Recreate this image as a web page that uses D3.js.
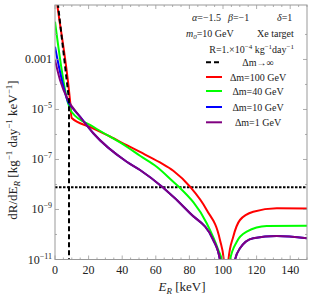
<!DOCTYPE html>
<html><head><meta charset="utf-8">
<script src="https://cdn.jsdelivr.net/npm/d3@7"></script>
<style>body{margin:0;background:#fff}svg{display:block}text{font-family:"Liberation Serif","DejaVu Serif",serif;fill:#222}</style>
</head><body>
<script>
// ---- data ----
const xMajorTicks = [0, 20, 40, 60, 80, 100, 120, 140];
const xMinorTicks = [5,10,15,25,30,35,45,50,55,65,70,75,85,90,95,105,110,115,125,130,135,145,150];
const yLabelExps = [-3, -5, -7, -9, -11];
const yMinorExps = [-2, -4, -6, -8, -10];

const energyInf = [0, 1.79, 8.33, 8.33];
const rateInf   = [1.66, 0.151, 2.40e-5, 1e-14];

const energy100 = [0, 1.37, 8.93, 9.94, 20.8, 32.7, 42.7, 50.6, 62.5, 70.4, 80.4, 90.3, 98.2, 100.5, 101.8, 103.2, 106.1, 110.1, 118.0, 132.0, 150];
const rate100   = [0.741, 0.151, 2.40e-5, 4.57e-6, 2.00e-6, 8.32e-7, 3.72e-7, 2.00e-7, 7.59e-8, 3.55e-8, 8.13e-9, 9.55e-10, 6.03e-11, 9.55e-12, 1e-13, 9.55e-12, 8.13e-11, 3.80e-10, 8.13e-10, 1.12e-9, 1.10e-9];

const energy40 = [0, 7.74, 9.94, 22.8, 42.7, 50.6, 60.5, 70.4, 74.0, 90.3, 97.2, 99.2, 101.8, 104.2, 108.2, 114.1, 126.0, 150];
const rate40   = [3.24e-2, 1.82e-5, 7.94e-6, 2.04e-6, 3.24e-7, 1.41e-7, 5.13e-8, 1.29e-8, 7.76e-9, 2.82e-10, 2.40e-11, 9.55e-12, 3e-14, 9.55e-12, 5.13e-11, 1.29e-10, 2.19e-10, 2.24e-10];

const energy10 = [0, 2.98, 7.74, 9.94, 14.9, 22.8, 42.7, 50.6, 64.1, 80.4, 94.2, 98.2, 101.8, 107.1, 110.1, 118.0, 132.0, 150];
const rate10   = [3.24e-3, 3.24e-4, 2.04e-5, 1.26e-5, 5.13e-6, 1.12e-6, 8.13e-8, 3.80e-8, 7.76e-9, 7.08e-10, 6.03e-11, 9.55e-12, 1e-14, 9.55e-12, 2.82e-11, 7.08e-11, 8.71e-11, 7.08e-11];

const energy1 = [0, 2.98, 7.74, 14.9, 22.8, 42.7, 50.6, 64.1, 80.4, 94.2, 98.2, 101.8, 107.1, 110.1, 118.0, 132.0, 150];
const rate1   = [9.55e-4, 1.51e-4, 2.40e-5, 5.13e-6, 1.12e-6, 8.13e-8, 3.80e-8, 7.76e-9, 7.08e-10, 6.03e-11, 9.55e-12, 1e-14, 9.55e-12, 2.82e-11, 7.08e-11, 8.71e-11, 7.08e-11];

const thresholdRate = 7.76e-9;

const seriesNames = ["Δm→∞", "Δm=100 GeV", "Δm=40 GeV", "Δm=10 GeV", "Δm=1 GeV"];
const seriesColors = ["#000000", "#ff0000", "#00ff00", "#0000ff", "#800080"];

// ---- layout ----
const W = 312, H = 299;
const L = 55, R = 307, T = 5, B = 259.5;
const svg = d3.select("body").append("svg").attr("width", W).attr("height", H);
const x = d3.scaleLinear().domain([0, 150]).range([L, R]);
const y = d3.scaleLog().domain([1e-11, 0.151]).range([B, T]);

svg.append("clipPath").attr("id", "c").append("rect").attr("x", L).attr("y", T).attr("width", R - L).attr("height", B - T);
const g = svg.append("g").attr("clip-path", "url(#c)");

const zip = (a, b) => a.map((e, i) => [e, b[i]]);
const lineM = d3.line().x(d => x(d[0])).y(d => y(Math.max(d[1], 1e-16))).curve(d3.curveMonotoneX);
const lineL = d3.line().x(d => x(d[0])).y(d => y(Math.max(d[1], 1e-16)));

// threshold horizontal dotted line
g.append("line").attr("x1", L).attr("x2", R).attr("y1", y(thresholdRate)).attr("y2", y(thresholdRate))
  .attr("stroke", "#000").attr("stroke-width", 2).attr("stroke-dasharray", "2.5,1.5");

const curves = [
  [zip(energy100, rate100), 1],
  [zip(energy40, rate40), 2],
  [zip(energy10, rate10), 3],
  [zip(energy1, rate1), 4]
];
curves.forEach(([data, ci]) => {
  g.append("path").attr("d", lineM(data)).attr("fill", "none").attr("stroke", seriesColors[ci]).attr("stroke-width", 2);
});
g.append("path").attr("d", lineL(zip(energyInf, rateInf))).attr("fill", "none").attr("stroke", "#000")
  .attr("stroke-width", 2).attr("stroke-dasharray", "5,3");

// frame and ticks
const axisCol = "#999";
svg.append("rect").attr("x", L).attr("y", T).attr("width", R - L).attr("height", B - T)
  .attr("fill", "none").attr("stroke", axisCol).attr("stroke-width", 1);
const tk = svg.append("g").attr("stroke", axisCol).attr("stroke-width", 0.8);
xMajorTicks.forEach(v => {
  tk.append("line").attr("x1", x(v)).attr("x2", x(v)).attr("y1", B).attr("y2", B - 4);
  tk.append("line").attr("x1", x(v)).attr("x2", x(v)).attr("y1", T).attr("y2", T + 4);
});
xMinorTicks.forEach(v => {
  tk.append("line").attr("x1", x(v)).attr("x2", x(v)).attr("y1", B).attr("y2", B - 2);
  tk.append("line").attr("x1", x(v)).attr("x2", x(v)).attr("y1", T).attr("y2", T + 2);
});
yLabelExps.forEach(e => {
  const yy = y(Math.pow(10, e));
  tk.append("line").attr("x1", L).attr("x2", L + 4).attr("y1", yy).attr("y2", yy);
  tk.append("line").attr("x1", R).attr("x2", R - 4).attr("y1", yy).attr("y2", yy);
});
yMinorExps.forEach(e => {
  const yy = y(Math.pow(10, e));
  tk.append("line").attr("x1", L).attr("x2", L + 2).attr("y1", yy).attr("y2", yy);
  tk.append("line").attr("x1", R).attr("x2", R - 2).attr("y1", yy).attr("y2", yy);
});

// tick labels
xMajorTicks.forEach(v => {
  svg.append("text").attr("x", x(v)).attr("y", 274).attr("text-anchor", "middle").attr("font-size", 12).text(v);
});
yLabelExps.forEach(e => {
  const t = svg.append("text").attr("x", 52).attr("y", y(Math.pow(10, e)) + 4).attr("text-anchor", "end").attr("font-size", 12);
  if (e === -3) t.text("0.001");
  else { t.append("tspan").text("10"); t.append("tspan").attr("dy", -5).attr("font-size", 8).text("−" + (-e)); }
});

// axis titles
const xt = svg.append("text").attr("x", 182).attr("y", 291).attr("text-anchor", "middle").attr("font-size", 13);
xt.append("tspan").attr("font-style", "italic").text("E");
xt.append("tspan").attr("font-style", "italic").attr("font-size", 9).attr("dy", 3).text("R");
xt.append("tspan").attr("dy", -3).text(" [keV]");

const yt = svg.append("text").attr("transform", "translate(17,150) rotate(-90)").attr("text-anchor", "middle").attr("font-size", 13);
yt.append("tspan").text("dR/dE");
yt.append("tspan").attr("font-style", "italic").attr("font-size", 9).attr("dy", 3).text("R");
yt.append("tspan").attr("dy", -3).text(" [kg");
yt.append("tspan").attr("font-size", 9).attr("dy", -5).text("−1");
yt.append("tspan").attr("dy", 5).text(" day");
yt.append("tspan").attr("font-size", 9).attr("dy", -5).text("−1");
yt.append("tspan").attr("dy", 5).text(" keV");
yt.append("tspan").attr("font-size", 9).attr("dy", -5).text("−1");
yt.append("tspan").attr("dy", 5).text("]");

// parameter text
const fs = 10;
function para(xp, yp, parts, anchor) {
  const t = svg.append("text").attr("x", xp).attr("y", yp).attr("font-size", fs).attr("text-anchor", anchor || "start");
  parts.forEach(p => {
    const s = t.append("tspan").text(p.t);
    if (p.i) s.attr("font-style", "italic");
    if (p.dy) s.attr("dy", p.dy);
    if (p.fs) s.attr("font-size", p.fs);
  });
}
para(192, 21, [{t: "α", i: 1}, {t: "=−1.5"}]);
para(228, 21, [{t: "β", i: 1}, {t: "=−1"}]);
para(277, 21, [{t: "δ", i: 1}, {t: "=1"}]);
para(186, 37, [{t: "m", i: 1}, {t: "0", i: 1, fs: 7, dy: 2}, {t: "=10 GeV", dy: -2}]);
para(257, 37, [{t: "Xe target"}]);
para(294, 53, [{t: "R=1.×10"}, {t: "−4", fs: 7, dy: -4}, {t: " kg", dy: 4}, {t: "−1", fs: 7, dy: -4}, {t: "day", dy: 4}, {t: "−1", fs: 7, dy: -4}], "end");

// legend
const legY = [62.3, 77, 91, 107, 122.3];
seriesNames.forEach((n, i) => {
  const ln = svg.append("line").attr("x1", 206).attr("x2", 222).attr("y1", legY[i]).attr("y2", legY[i])
    .attr("stroke", seriesColors[i]).attr("stroke-width", 2);
  if (i === 0) ln.attr("stroke-dasharray", "5,3");
  svg.append("text").attr("x", 258).attr("y", legY[i] + 3.5).attr("text-anchor", "middle").attr("font-size", fs).text(n);
});
</script>
</body></html>
